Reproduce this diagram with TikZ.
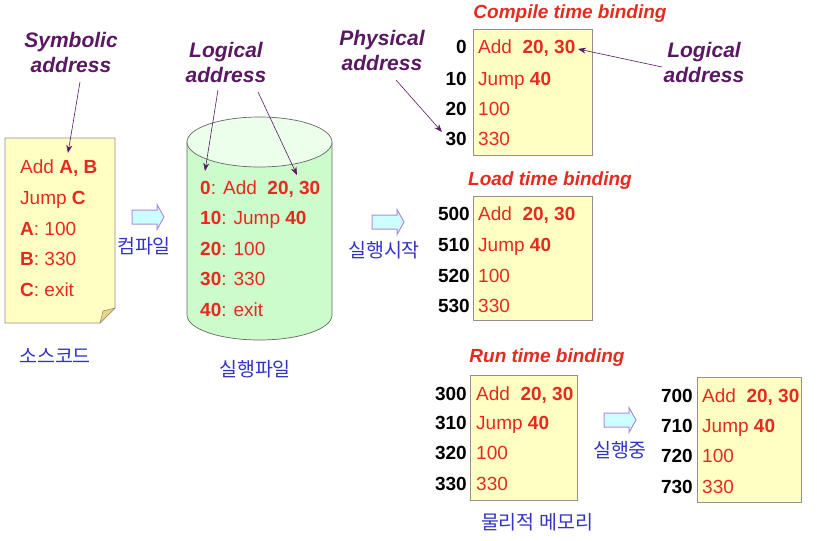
\documentclass[tikz,border=0pt]{standalone}
\usepackage{fontspec}
\setmainfont{Liberation Sans}
\newfontfamily\kr{Noto Sans CJK KR}
\usetikzlibrary{arrows.meta}
\definecolor{tred}{HTML}{E52A1F}
\definecolor{tpurple}{HTML}{5A1862}
\definecolor{tblue}{HTML}{3434C4}
\definecolor{yfill}{HTML}{FFFFC4}
\definecolor{ydraw}{HTML}{9A8C8C}
\definecolor{gfill}{HTML}{CCFCCC}
\definecolor{afill}{HTML}{CCFFFF}
\definecolor{adraw}{HTML}{B08CD8}
\tikzset{
  lbl/.style={font=\fontsize{21}{25}\selectfont\bfseries\itshape, text=tpurple, align=center, inner sep=0pt},
  ttl/.style={font=\fontsize{19}{22}\selectfont\bfseries\itshape, text=tred, inner sep=0pt},
  code/.style={font=\fontsize{19}{22}\selectfont, text=tred, anchor=mid west, inner sep=0pt, yshift=-4.5pt},
  addr/.style={font=\fontsize{19}{22}\selectfont\bfseries, text=black, anchor=mid east, inner sep=0pt, yshift=-4.5pt},
  kor/.style={font=\kr\fontsize{19.5}{22}\selectfont, text=tblue, inner sep=0pt},
  memb/.style={draw=ydraw, fill=yfill, line width=0.8pt},
  barrowline/.style={draw=adraw, fill=afill, line width=1pt, line join=miter},
  ptr/.style={draw=tpurple, line width=0.6pt, -{Stealth[length=8pt,width=6pt]}}
}
% block arrow whose left end (mid) is at the named coordinate #1
\newcommand\myblockarrow[1]{%
  \path[barrowline] (#1) ++(0,-7) -- ++(25,0) -- ++(0,-5.5) -- ++(7,12.5) -- ++(-7,12.5) -- ++(0,-5.5) -- ++(-25,0) -- cycle;}
\begin{document}
\begin{tikzpicture}[x=1pt,y=-1pt]
\useasboundingbox (0,0) rectangle (817,541);
% ---------- source code document
\fill[yfill] (5,138) -- (115,138) -- (115,308) -- (100,323) -- (5,323) -- cycle;
\draw[ydraw, line width=0.8pt] (5,138) -- (115,138) -- (115,308) -- (100,323) -- (5,323) -- cycle;
\filldraw[fill=yellow!45!brown!60, draw=ydraw, line width=0.6pt] (115,308) -- (103,311) -- (100,323) -- cycle;
\node[code] (s1) at (20,166) {Add \textbf{A, B}};
\node[code] (s2) at (20,197) {Jump \textbf{C}};
\node[code] (s3) at (20,228) {\textbf{A}: 100};
\node[code] (s4) at (20,258) {\textbf{B}: 330};
\node[code] (s5) at (20,289) {\textbf{C}: exit};
\node[kor] (srcl) at (55,356) {소스코드};
\node[lbl] (sym) at (71,52) {Symbolic\\address};
\coordinate (symtip) at (68,153);
\draw[ptr] (80,82) -- (symtip);
% ---------- compile arrow
\coordinate (a1) at (132,217);
\myblockarrow{a1}
\node[kor] (a1l) at (144,246) {컴파일};
% ---------- cylinder
\fill[gfill] (187,142) -- (187,315) arc[start angle=180,end angle=0,x radius=72.5,y radius=25] -- (332,142) arc[start angle=0,end angle=180,x radius=72.5,y radius=25] -- cycle;
\draw[gray!80!black, line width=0.7pt] (187,142) -- (187,315) arc[start angle=180,end angle=0,x radius=72.5,y radius=25] -- (332,142);
\draw[gray!80!black, line width=0.7pt, fill=green!8!white] (259.5,142) ellipse[x radius=72.5, y radius=25];
\node[code] (e1) at (200,187) {\textbf{0}: Add\ \ \textbf{20, 30}};
\node[code] (e2) at (200,217) {\textbf{10}: Jump \textbf{40}};
\node[code] (e3) at (200,248) {\textbf{20}: 100};
\node[code] (e4) at (200,278) {\textbf{30}: 330};
\node[code] (e5) at (200,309) {\textbf{40}: exit};
\node[kor] (exel) at (255,369) {실행파일};
\node[lbl] (log1) at (226,62) {Logical\\address};
\coordinate (l1a) at (205,171);
\coordinate (l1b) at (297,175);
\draw[ptr] (218,90) -- (l1a);
\draw[ptr] (258,92) -- (l1b);
% ---------- load arrow
\coordinate (a2) at (372,222);
\myblockarrow{a2}
\node[kor] (a2l) at (384,250) {실행시작};
\node[lbl] (phys) at (382,50) {Physical\\address};
% ---------- compile time binding
\node[ttl] (t1) at (570,14) {Compile time binding};
\draw[memb] (473,29) rectangle (592,155);
\node[addr] (c0) at (467,46) {0};
\node[addr] (c1) at (467,78) {10};
\node[addr] (c2) at (467,108) {20};
\node[addr] (c3) at (467,138) {30};
\node[code] (cc0) at (478,46) {Add\ \ \textbf{20, 30}};
\node[code] (cc1) at (478,78) {Jump \textbf{40}};
\node[code] (cc2) at (478,108) {100};
\node[code] (cc3) at (478,138) {330};
\coordinate (phtip) at (442,132);
\draw[ptr] (396,80) -- (phtip);
\node[lbl] (log2) at (704,62) {Logical\\address};
\coordinate (l2tip) at (578,49);
\draw[ptr] (662,67) -- (l2tip);
% ---------- load time binding
\node[ttl] (t2) at (550,181) {Load time binding};
\draw[memb] (473,196) rectangle (592,320);
\node[addr] (d0) at (470,213) {500};
\node[addr] (d1) at (470,244) {510};
\node[addr] (d2) at (470,275) {520};
\node[addr] (d3) at (470,305) {530};
\node[code] (dd0) at (478,213) {Add\ \ \textbf{20, 30}};
\node[code] (dd1) at (478,244) {Jump \textbf{40}};
\node[code] (dd2) at (478,275) {100};
\node[code] (dd3) at (478,305) {330};
% ---------- run time binding
\node[ttl] (t3) at (547,358) {Run time binding};
\draw[memb] (470,375) rectangle (577,500);
\node[addr] (r0) at (467,393) {300};
\node[addr] (r1) at (467,422) {310};
\node[addr] (r2) at (467,452) {320};
\node[addr] (r3) at (467,483) {330};
\node[code] (rr0) at (476,393) {Add\ \ \textbf{20, 30}};
\node[code] (rr1) at (476,422) {Jump \textbf{40}};
\node[code] (rr2) at (476,452) {100};
\node[code] (rr3) at (476,483) {330};
\node[kor] (physl) at (537,522) {물리적 메모리};
\coordinate (a3) at (604,420);
\myblockarrow{a3}
\node[kor] (a3l) at (620,450) {실행중};
\draw[memb] (697,377) rectangle (801,502);
\node[addr] (m0) at (693,395) {700};
\node[addr] (m1) at (693,425) {710};
\node[addr] (m2) at (693,455) {720};
\node[addr] (m3) at (693,486) {730};
\node[code] (mm0) at (702,395) {Add\ \ \textbf{20, 30}};
\node[code] (mm1) at (702,425) {Jump \textbf{40}};
\node[code] (mm2) at (702,455) {100};
\node[code] (mm3) at (702,486) {330};
\end{tikzpicture}
\end{document}
